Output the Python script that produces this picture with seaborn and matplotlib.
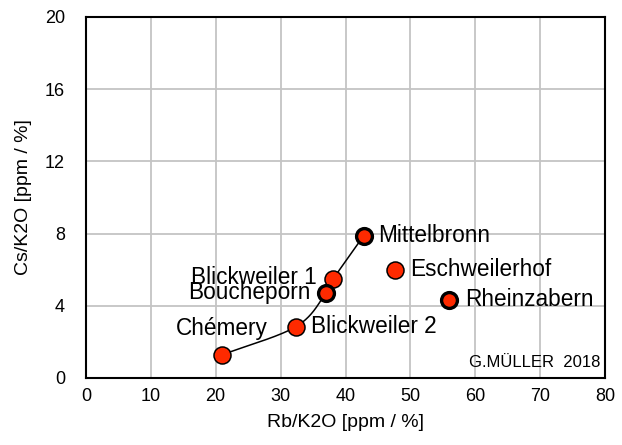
import numpy as np
import pandas as pd
import matplotlib
matplotlib.use("Agg")
import matplotlib.pyplot as plt
import seaborn as sns

# Rb/K2O vs Cs/K2O ratios for terra sigillata production sites
sites = ["Chémery", "Blickweiler 2", "Boucheporn", "Blickweiler 1",
         "Mittelbronn", "Eschweilerhof", "Rheinzabern"]
rb_k2o = [20.9, 32.4, 37.0, 38.1, 42.8, 47.6, 55.9]
cs_k2o = [1.27, 2.85, 4.72, 5.48, 7.88, 6.0, 4.32]
bold_edge = [False, False, True, False, True, False, True]

# sites joined by the trend curve, in order of increasing Rb/K2O
trend_sites = ["Chémery", "Blickweiler 2", "Boucheporn", "Blickweiler 1", "Mittelbronn"]

x_ticks = [0, 10, 20, 30, 40, 50, 60, 70, 80]
y_ticks = [0, 4, 8, 12, 16, 20]

df = pd.DataFrame({"site": sites, "rb": rb_k2o, "cs": cs_k2o, "bold": bold_edge})

sns.set_theme(style="whitegrid")
plt.rcParams["font.family"] = ["Liberation Sans", "DejaVu Sans"]

fig = plt.figure(figsize=(6.22, 4.45), dpi=100)
ax = fig.add_axes([0.138, 0.1506, 0.835, 0.8115])


def catmull_rom(px, py, n=40):
    """Smooth curve through the given points (uniform Catmull-Rom spline)."""
    P = np.column_stack([px, py])
    P = np.vstack([2 * P[0] - P[1], P, 2 * P[-1] - P[-2]])
    out = []
    for i in range(1, len(P) - 2):
        p0, p1, p2, p3 = P[i - 1], P[i], P[i + 1], P[i + 2]
        t = np.linspace(0, 1, n)[:, None]
        seg = 0.5 * ((2 * p1) + (-p0 + p2) * t + (2 * p0 - 5 * p1 + 4 * p2 - p3) * t ** 2
                     + (-p0 + 3 * p1 - 3 * p2 + p3) * t ** 3)
        out.append(seg)
    c = np.vstack(out)
    return c[:, 0], c[:, 1]


tr = df.set_index("site").loc[trend_sites]
cx, cy = catmull_rom(tr["rb"].values, tr["cs"].values)
ax.plot(cx, cy, color="black", lw=1.1, zorder=2)

red = "#ff2a00"
thin = df[~df["bold"]]
thick = df[df["bold"]]
sns.scatterplot(data=thin, x="rb", y="cs", ax=ax, s=150, color=red,
                edgecolor="black", linewidth=1.1, zorder=3, legend=False)
sns.scatterplot(data=thick, x="rb", y="cs", ax=ax, s=130, color=red,
                edgecolor="black", linewidth=2.4, zorder=3, legend=False)

# site labels: (dx, dy) offsets in pixels and horizontal alignment
label_pos = {
    "Chémery": (0, 27, "center"),
    "Blickweiler 2": (15, 0, "left"),
    "Boucheporn": (-16, 0, "right"),
    "Blickweiler 1": (-16, 2, "right"),
    "Mittelbronn": (14, 0, "left"),
    "Eschweilerhof": (15, 0, "left"),
    "Rheinzabern": (16, 0, "left"),
}
for s, x, y in zip(sites, rb_k2o, cs_k2o):
    dx, dy, ha = label_pos[s]
    ax.annotate(s, (x, y), xytext=(dx, dy), textcoords="offset pixels",
                ha=ha, va="center", fontsize=16.3, color="black", zorder=4)

ax.text(0.99, 0.043, "G.MÜLLER  2018", transform=ax.transAxes,
        ha="right", va="center", fontsize=12, color="black")

ax.set_xlim(0, 80)
ax.set_ylim(0, 20)
ax.set_xticks(x_ticks)
ax.set_yticks(y_ticks)
ax.set_xticklabels([str(v) for v in x_ticks])
ax.set_yticklabels([str(v) for v in y_ticks])
ax.tick_params(axis="both", length=0, labelsize=13, colors="black")
ax.tick_params(axis="y", pad=15)
ax.tick_params(axis="x", pad=7)
ax.set_xlabel("Rb/K2O [ppm / %]", fontsize=14, color="black", labelpad=7)
ax.set_ylabel("Cs/K2O [ppm / %]", fontsize=14, color="black", labelpad=9)

ax.grid(True, color="#c4c4c4", lw=1.3)
ax.set_facecolor("white")
for sp in ax.spines.values():
    sp.set_visible(True)
    sp.set_color("black")
    sp.set_linewidth(1.5)

fig.savefig("out.png", dpi=100, facecolor="white")
